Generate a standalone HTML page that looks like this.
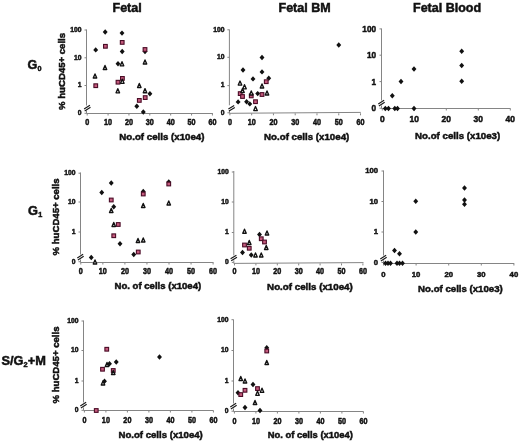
<!DOCTYPE html>
<html><head><meta charset="utf-8"><style>html,body{margin:0;padding:0;background:#fff}svg{display:block;will-change:transform}</style></head>
<body>
<svg width="520" height="443" viewBox="0 0 520 443">
<style>text{font-family:"Liberation Sans",sans-serif;fill:#111;stroke:#111;stroke-width:0.5}.d{fill:#111}.s{fill:#c45a7c;stroke:#4a0c26;stroke-width:1.1}.t{fill:#fff;stroke:#111;stroke-width:1.35;stroke-linejoin:round}</style>
<rect width="520" height="443" fill="#fff"/>
<text x="112.5" y="12.2" font-size="12.5" text-anchor="start" font-weight="bold" >Fetal</text>
<text x="278.5" y="12.2" font-size="12.5" text-anchor="start" font-weight="bold" >Fetal BM</text>
<text x="413" y="12.2" font-size="12.5" text-anchor="start" font-weight="bold" >Fetal Blood</text>
<text x="27.6" y="68.9" font-size="12.6" font-weight="bold">G<tspan font-size="7.2" dx="0.2" dy="2.2">0</tspan></text>
<text x="27.9" y="214.6" font-size="12.8" font-weight="bold">G<tspan font-size="7.2" dx="0.4" dy="2.4">1</tspan></text>
<text x="1.5" y="364.5" font-size="12.8" font-weight="bold">S/G<tspan font-size="7.4" dy="2.4">2</tspan><tspan dy="-2.4">+M</tspan></text>
<line x1="86.5" y1="29.5" x2="86.5" y2="105.5" stroke="#858585" stroke-width="1"/>
<line x1="86.5" y1="110.5" x2="86.5" y2="113.5" stroke="#858585" stroke-width="1"/>
<path d="M84.10 108.90L89.90 105.30M84.70 110.90L90.50 107.30" stroke="#1a1a1a" stroke-width="1.15" fill="none"/>
<line x1="86.5" y1="113.5" x2="212.9" y2="113.5" stroke="#858585" stroke-width="1"/>
<line x1="84.5" y1="30" x2="86.5" y2="30" stroke="#858585" stroke-width="1"/>
<text x="81.5" y="31.875" font-size="7.5" text-anchor="end" font-weight="bold" transform="translate(81.5 0) scale(0.9 1) translate(-81.5 0)">100</text>
<line x1="84.5" y1="57.8" x2="86.5" y2="57.8" stroke="#858585" stroke-width="1"/>
<text x="81.5" y="59.675" font-size="7.5" text-anchor="end" font-weight="bold" transform="translate(81.5 0) scale(0.9 1) translate(-81.5 0)">10</text>
<line x1="84.5" y1="85.5" x2="86.5" y2="85.5" stroke="#858585" stroke-width="1"/>
<text x="81.5" y="87.375" font-size="7.5" text-anchor="end" font-weight="bold" transform="translate(81.5 0) scale(0.9 1) translate(-81.5 0)">1</text>
<line x1="84.5" y1="113.3" x2="86.5" y2="113.3" stroke="#858585" stroke-width="1"/>
<text x="81.5" y="115.175" font-size="7.5" text-anchor="end" font-weight="bold" transform="translate(81.5 0) scale(0.9 1) translate(-81.5 0)">0</text>
<line x1="87.2" y1="113.5" x2="87.2" y2="115.5" stroke="#858585" stroke-width="1"/>
<text x="87.2" y="125.2" font-size="8.2" text-anchor="middle" font-weight="bold" transform="translate(87.2 0) scale(0.88 1) translate(-87.2 0)">0</text>
<line x1="108.07" y1="113.5" x2="108.07" y2="115.5" stroke="#858585" stroke-width="1"/>
<text x="108.07" y="125.2" font-size="8.2" text-anchor="middle" font-weight="bold" transform="translate(108.07 0) scale(0.88 1) translate(-108.07 0)">10</text>
<line x1="128.94" y1="113.5" x2="128.94" y2="115.5" stroke="#858585" stroke-width="1"/>
<text x="128.94" y="125.2" font-size="8.2" text-anchor="middle" font-weight="bold" transform="translate(128.94 0) scale(0.88 1) translate(-128.94 0)">20</text>
<line x1="149.81" y1="113.5" x2="149.81" y2="115.5" stroke="#858585" stroke-width="1"/>
<text x="149.81" y="125.2" font-size="8.2" text-anchor="middle" font-weight="bold" transform="translate(149.81 0) scale(0.88 1) translate(-149.81 0)">30</text>
<line x1="170.68" y1="113.5" x2="170.68" y2="115.5" stroke="#858585" stroke-width="1"/>
<text x="170.68" y="125.2" font-size="8.2" text-anchor="middle" font-weight="bold" transform="translate(170.68 0) scale(0.88 1) translate(-170.68 0)">40</text>
<line x1="191.55" y1="113.5" x2="191.55" y2="115.5" stroke="#858585" stroke-width="1"/>
<text x="191.55" y="125.2" font-size="8.2" text-anchor="middle" font-weight="bold" transform="translate(191.55 0) scale(0.88 1) translate(-191.55 0)">50</text>
<line x1="212.42" y1="113.5" x2="212.42" y2="115.5" stroke="#858585" stroke-width="1"/>
<text x="212.42" y="125.2" font-size="8.2" text-anchor="middle" font-weight="bold" transform="translate(212.42 0) scale(0.88 1) translate(-212.42 0)">60</text>
<text x="119.3" y="140.3" font-size="9.8" text-anchor="start" font-weight="bold" textLength="85.2" lengthAdjust="spacingAndGlyphs">No.of cells (x10e4)</text>
<text transform="translate(64.8,71.4) rotate(-90)" font-size="9.6" text-anchor="middle" font-weight="bold">% huCD45+ cells</text>
<line x1="229.4" y1="29.5" x2="229.4" y2="105.3" stroke="#858585" stroke-width="1"/>
<line x1="229.4" y1="110.3" x2="229.4" y2="113.3" stroke="#858585" stroke-width="1"/>
<path d="M228.40 109.00L234.20 105.40M229.00 111.00L234.80 107.40" stroke="#1a1a1a" stroke-width="1.15" fill="none"/>
<line x1="229.4" y1="113.3" x2="360.8" y2="112.4" stroke="#858585" stroke-width="1"/>
<line x1="227.4" y1="29.8" x2="229.4" y2="29.8" stroke="#858585" stroke-width="1"/>
<text x="224.4" y="31.675" font-size="7.5" text-anchor="end" font-weight="bold" transform="translate(224.4 0) scale(0.9 1) translate(-224.4 0)">100</text>
<line x1="227.4" y1="57.3" x2="229.4" y2="57.3" stroke="#858585" stroke-width="1"/>
<text x="224.4" y="59.175" font-size="7.5" text-anchor="end" font-weight="bold" transform="translate(224.4 0) scale(0.9 1) translate(-224.4 0)">10</text>
<line x1="227.4" y1="85.6" x2="229.4" y2="85.6" stroke="#858585" stroke-width="1"/>
<text x="224.4" y="87.475" font-size="7.5" text-anchor="end" font-weight="bold" transform="translate(224.4 0) scale(0.9 1) translate(-224.4 0)">1</text>
<line x1="227.4" y1="112.8" x2="229.4" y2="112.8" stroke="#858585" stroke-width="1"/>
<text x="224.4" y="114.675" font-size="7.5" text-anchor="end" font-weight="bold" transform="translate(224.4 0) scale(0.9 1) translate(-224.4 0)">0</text>
<line x1="229.9" y1="113.3" x2="229.9" y2="115.3" stroke="#858585" stroke-width="1"/>
<text x="229.9" y="125.3" font-size="8.2" text-anchor="middle" font-weight="bold" transform="translate(229.9 0) scale(0.88 1) translate(-229.9 0)">0</text>
<line x1="251.67" y1="113.3" x2="251.67" y2="115.3" stroke="#858585" stroke-width="1"/>
<text x="251.67" y="125.3" font-size="8.2" text-anchor="middle" font-weight="bold" transform="translate(251.67 0) scale(0.88 1) translate(-251.67 0)">10</text>
<line x1="273.44" y1="113.3" x2="273.44" y2="115.3" stroke="#858585" stroke-width="1"/>
<text x="273.44" y="125.3" font-size="8.2" text-anchor="middle" font-weight="bold" transform="translate(273.44 0) scale(0.88 1) translate(-273.44 0)">20</text>
<line x1="295.21" y1="113.3" x2="295.21" y2="115.3" stroke="#858585" stroke-width="1"/>
<text x="295.21" y="125.3" font-size="8.2" text-anchor="middle" font-weight="bold" transform="translate(295.21 0) scale(0.88 1) translate(-295.21 0)">30</text>
<line x1="316.98" y1="113.3" x2="316.98" y2="115.3" stroke="#858585" stroke-width="1"/>
<text x="316.98" y="125.3" font-size="8.2" text-anchor="middle" font-weight="bold" transform="translate(316.98 0) scale(0.88 1) translate(-316.98 0)">40</text>
<line x1="338.75" y1="113.3" x2="338.75" y2="115.3" stroke="#858585" stroke-width="1"/>
<text x="338.75" y="125.3" font-size="8.2" text-anchor="middle" font-weight="bold" transform="translate(338.75 0) scale(0.88 1) translate(-338.75 0)">50</text>
<line x1="360.52" y1="113.3" x2="360.52" y2="115.3" stroke="#858585" stroke-width="1"/>
<text x="360.52" y="125.3" font-size="8.2" text-anchor="middle" font-weight="bold" transform="translate(360.52 0) scale(0.88 1) translate(-360.52 0)">60</text>
<text x="264.1" y="140.3" font-size="9.8" text-anchor="start" font-weight="bold" textLength="85.2" lengthAdjust="spacingAndGlyphs">No.of cells (x10e4)</text>
<line x1="381.5" y1="28.5" x2="381.5" y2="100.5" stroke="#858585" stroke-width="1"/>
<line x1="381.5" y1="105.5" x2="381.5" y2="108.5" stroke="#858585" stroke-width="1"/>
<path d="M378.30 103.90L384.10 100.30M378.90 105.90L384.70 102.30" stroke="#1a1a1a" stroke-width="1.15" fill="none"/>
<line x1="381.5" y1="108.5" x2="510.5" y2="108.5" stroke="#858585" stroke-width="1"/>
<line x1="379.5" y1="28.9" x2="381.5" y2="28.9" stroke="#858585" stroke-width="1"/>
<text x="376.0" y="31.825" font-size="8.9" text-anchor="end" font-weight="bold" transform="translate(376.0 0) scale(0.92 1) translate(-376.0 0)">100</text>
<line x1="379.5" y1="55.2" x2="381.5" y2="55.2" stroke="#858585" stroke-width="1"/>
<text x="376.0" y="58.12500000000001" font-size="8.9" text-anchor="end" font-weight="bold" transform="translate(376.0 0) scale(0.92 1) translate(-376.0 0)">10</text>
<line x1="379.5" y1="81.6" x2="381.5" y2="81.6" stroke="#858585" stroke-width="1"/>
<text x="376.0" y="84.52499999999999" font-size="8.9" text-anchor="end" font-weight="bold" transform="translate(376.0 0) scale(0.92 1) translate(-376.0 0)">1</text>
<line x1="379.5" y1="108.2" x2="381.5" y2="108.2" stroke="#858585" stroke-width="1"/>
<text x="376.0" y="111.125" font-size="8.9" text-anchor="end" font-weight="bold" transform="translate(376.0 0) scale(0.92 1) translate(-376.0 0)">0</text>
<line x1="382.3" y1="108.5" x2="382.3" y2="110.5" stroke="#858585" stroke-width="1"/>
<text x="382.3" y="122.4" font-size="8.9" text-anchor="middle" font-weight="bold" transform="translate(382.3 0) scale(0.95 1) translate(-382.3 0)">0</text>
<line x1="414.3" y1="108.5" x2="414.3" y2="110.5" stroke="#858585" stroke-width="1"/>
<text x="414.3" y="122.4" font-size="8.9" text-anchor="middle" font-weight="bold" transform="translate(414.3 0) scale(0.95 1) translate(-414.3 0)">10</text>
<line x1="446.3" y1="108.5" x2="446.3" y2="110.5" stroke="#858585" stroke-width="1"/>
<text x="446.3" y="122.4" font-size="8.9" text-anchor="middle" font-weight="bold" transform="translate(446.3 0) scale(0.95 1) translate(-446.3 0)">20</text>
<line x1="478.3" y1="108.5" x2="478.3" y2="110.5" stroke="#858585" stroke-width="1"/>
<text x="478.3" y="122.4" font-size="8.9" text-anchor="middle" font-weight="bold" transform="translate(478.3 0) scale(0.95 1) translate(-478.3 0)">30</text>
<line x1="510.3" y1="108.5" x2="510.3" y2="110.5" stroke="#858585" stroke-width="1"/>
<text x="510.3" y="122.4" font-size="8.9" text-anchor="middle" font-weight="bold" transform="translate(510.3 0) scale(0.95 1) translate(-510.3 0)">40</text>
<text x="415.1" y="138.5" font-size="9.8" text-anchor="start" font-weight="bold" textLength="85.1" lengthAdjust="spacingAndGlyphs">No.of cells (x10e3)</text>
<line x1="80.5" y1="172.5" x2="80.5" y2="254.5" stroke="#858585" stroke-width="1"/>
<line x1="80.5" y1="259.5" x2="80.5" y2="262.5" stroke="#858585" stroke-width="1"/>
<path d="M77.30 257.90L83.10 254.30M77.90 259.90L83.70 256.30" stroke="#1a1a1a" stroke-width="1.15" fill="none"/>
<line x1="80.5" y1="262.5" x2="213.5" y2="262.5" stroke="#858585" stroke-width="1"/>
<line x1="78.5" y1="173.2" x2="80.5" y2="173.2" stroke="#858585" stroke-width="1"/>
<text x="75.5" y="175.075" font-size="7.5" text-anchor="end" font-weight="bold" transform="translate(75.5 0) scale(0.9 1) translate(-75.5 0)">100</text>
<line x1="78.5" y1="202" x2="80.5" y2="202" stroke="#858585" stroke-width="1"/>
<text x="75.5" y="203.875" font-size="7.5" text-anchor="end" font-weight="bold" transform="translate(75.5 0) scale(0.9 1) translate(-75.5 0)">10</text>
<line x1="78.5" y1="232" x2="80.5" y2="232" stroke="#858585" stroke-width="1"/>
<text x="75.5" y="233.875" font-size="7.5" text-anchor="end" font-weight="bold" transform="translate(75.5 0) scale(0.9 1) translate(-75.5 0)">1</text>
<line x1="78.5" y1="261.7" x2="80.5" y2="261.7" stroke="#858585" stroke-width="1"/>
<text x="75.5" y="263.575" font-size="7.5" text-anchor="end" font-weight="bold" transform="translate(75.5 0) scale(0.9 1) translate(-75.5 0)">0</text>
<line x1="80.8" y1="262.5" x2="80.8" y2="264.5" stroke="#858585" stroke-width="1"/>
<text x="80.8" y="273.9" font-size="8.2" text-anchor="middle" font-weight="bold" transform="translate(80.8 0) scale(0.88 1) translate(-80.8 0)">0</text>
<line x1="102.85" y1="262.5" x2="102.85" y2="264.5" stroke="#858585" stroke-width="1"/>
<text x="102.85" y="273.9" font-size="8.2" text-anchor="middle" font-weight="bold" transform="translate(102.85 0) scale(0.88 1) translate(-102.85 0)">10</text>
<line x1="124.9" y1="262.5" x2="124.9" y2="264.5" stroke="#858585" stroke-width="1"/>
<text x="124.9" y="273.9" font-size="8.2" text-anchor="middle" font-weight="bold" transform="translate(124.9 0) scale(0.88 1) translate(-124.9 0)">20</text>
<line x1="146.95" y1="262.5" x2="146.95" y2="264.5" stroke="#858585" stroke-width="1"/>
<text x="146.95" y="273.9" font-size="8.2" text-anchor="middle" font-weight="bold" transform="translate(146.95 0) scale(0.88 1) translate(-146.95 0)">30</text>
<line x1="169.0" y1="262.5" x2="169.0" y2="264.5" stroke="#858585" stroke-width="1"/>
<text x="169.0" y="273.9" font-size="8.2" text-anchor="middle" font-weight="bold" transform="translate(169.0 0) scale(0.88 1) translate(-169.0 0)">40</text>
<line x1="191.05" y1="262.5" x2="191.05" y2="264.5" stroke="#858585" stroke-width="1"/>
<text x="191.05" y="273.9" font-size="8.2" text-anchor="middle" font-weight="bold" transform="translate(191.05 0) scale(0.88 1) translate(-191.05 0)">50</text>
<line x1="213.1" y1="262.5" x2="213.1" y2="264.5" stroke="#858585" stroke-width="1"/>
<text x="213.1" y="273.9" font-size="8.2" text-anchor="middle" font-weight="bold" transform="translate(213.1 0) scale(0.88 1) translate(-213.1 0)">60</text>
<text x="114.5" y="289.4" font-size="9.8" text-anchor="start" font-weight="bold" textLength="86.7" lengthAdjust="spacingAndGlyphs">No. of cells (x10e4)</text>
<text transform="translate(58.8,216.9) rotate(-90)" font-size="9.6" text-anchor="middle" font-weight="bold">% huCD45+ cells</text>
<line x1="233.8" y1="171" x2="233.8" y2="255.39999999999998" stroke="#858585" stroke-width="1"/>
<line x1="233.8" y1="260.4" x2="233.8" y2="263.4" stroke="#858585" stroke-width="1"/>
<path d="M230.60 258.80L236.40 255.20M231.20 260.80L237.00 257.20" stroke="#1a1a1a" stroke-width="1.15" fill="none"/>
<line x1="233.8" y1="263.4" x2="363.5" y2="262.6" stroke="#858585" stroke-width="1"/>
<line x1="231.8" y1="172" x2="233.8" y2="172" stroke="#858585" stroke-width="1"/>
<text x="228.8" y="173.875" font-size="7.5" text-anchor="end" font-weight="bold" transform="translate(228.8 0) scale(0.9 1) translate(-228.8 0)">100</text>
<line x1="231.8" y1="202" x2="233.8" y2="202" stroke="#858585" stroke-width="1"/>
<text x="228.8" y="203.875" font-size="7.5" text-anchor="end" font-weight="bold" transform="translate(228.8 0) scale(0.9 1) translate(-228.8 0)">10</text>
<line x1="231.8" y1="232.5" x2="233.8" y2="232.5" stroke="#858585" stroke-width="1"/>
<text x="228.8" y="234.375" font-size="7.5" text-anchor="end" font-weight="bold" transform="translate(228.8 0) scale(0.9 1) translate(-228.8 0)">1</text>
<line x1="231.8" y1="262.4" x2="233.8" y2="262.4" stroke="#858585" stroke-width="1"/>
<text x="228.8" y="264.275" font-size="7.5" text-anchor="end" font-weight="bold" transform="translate(228.8 0) scale(0.9 1) translate(-228.8 0)">0</text>
<line x1="234.5" y1="263.4" x2="234.5" y2="265.4" stroke="#858585" stroke-width="1"/>
<text x="234.5" y="274.09999999999997" font-size="8.2" text-anchor="middle" font-weight="bold" transform="translate(234.5 0) scale(0.88 1) translate(-234.5 0)">0</text>
<line x1="255.9" y1="263.4" x2="255.9" y2="265.4" stroke="#858585" stroke-width="1"/>
<text x="255.9" y="274.09999999999997" font-size="8.2" text-anchor="middle" font-weight="bold" transform="translate(255.9 0) scale(0.88 1) translate(-255.9 0)">10</text>
<line x1="277.3" y1="263.4" x2="277.3" y2="265.4" stroke="#858585" stroke-width="1"/>
<text x="277.3" y="274.09999999999997" font-size="8.2" text-anchor="middle" font-weight="bold" transform="translate(277.3 0) scale(0.88 1) translate(-277.3 0)">20</text>
<line x1="298.7" y1="263.4" x2="298.7" y2="265.4" stroke="#858585" stroke-width="1"/>
<text x="298.7" y="274.09999999999997" font-size="8.2" text-anchor="middle" font-weight="bold" transform="translate(298.7 0) scale(0.88 1) translate(-298.7 0)">30</text>
<line x1="320.1" y1="263.4" x2="320.1" y2="265.4" stroke="#858585" stroke-width="1"/>
<text x="320.1" y="274.09999999999997" font-size="8.2" text-anchor="middle" font-weight="bold" transform="translate(320.1 0) scale(0.88 1) translate(-320.1 0)">40</text>
<line x1="341.5" y1="263.4" x2="341.5" y2="265.4" stroke="#858585" stroke-width="1"/>
<text x="341.5" y="274.09999999999997" font-size="8.2" text-anchor="middle" font-weight="bold" transform="translate(341.5 0) scale(0.88 1) translate(-341.5 0)">50</text>
<line x1="362.9" y1="263.4" x2="362.9" y2="265.4" stroke="#858585" stroke-width="1"/>
<text x="362.9" y="274.09999999999997" font-size="8.2" text-anchor="middle" font-weight="bold" transform="translate(362.9 0) scale(0.88 1) translate(-362.9 0)">60</text>
<text x="267.1" y="289.8" font-size="9.8" text-anchor="start" font-weight="bold" textLength="85.7" lengthAdjust="spacingAndGlyphs">No.of cells (x10e4)</text>
<line x1="383.5" y1="170.5" x2="383.5" y2="255.5" stroke="#858585" stroke-width="1"/>
<line x1="383.5" y1="260.5" x2="383.5" y2="263.5" stroke="#858585" stroke-width="1"/>
<path d="M380.30 258.90L386.10 255.30M380.90 260.90L386.70 257.30" stroke="#1a1a1a" stroke-width="1.15" fill="none"/>
<line x1="383.5" y1="263.5" x2="514.2" y2="263.5" stroke="#858585" stroke-width="1"/>
<line x1="381.5" y1="171" x2="383.5" y2="171" stroke="#858585" stroke-width="1"/>
<text x="378.0" y="173.025" font-size="8.1" text-anchor="end" font-weight="bold" transform="translate(378.0 0) scale(0.95 1) translate(-378.0 0)">100</text>
<line x1="381.5" y1="201.5" x2="383.5" y2="201.5" stroke="#858585" stroke-width="1"/>
<text x="378.0" y="203.525" font-size="8.1" text-anchor="end" font-weight="bold" transform="translate(378.0 0) scale(0.95 1) translate(-378.0 0)">10</text>
<line x1="381.5" y1="232" x2="383.5" y2="232" stroke="#858585" stroke-width="1"/>
<text x="378.0" y="234.025" font-size="8.1" text-anchor="end" font-weight="bold" transform="translate(378.0 0) scale(0.95 1) translate(-378.0 0)">1</text>
<line x1="381.5" y1="262.5" x2="383.5" y2="262.5" stroke="#858585" stroke-width="1"/>
<text x="378.0" y="264.525" font-size="8.1" text-anchor="end" font-weight="bold" transform="translate(378.0 0) scale(0.95 1) translate(-378.0 0)">0</text>
<line x1="383.5" y1="263.5" x2="383.5" y2="265.5" stroke="#858585" stroke-width="1"/>
<text x="383.5" y="276.6" font-size="8.1" text-anchor="middle" font-weight="bold" transform="translate(383.5 0) scale(0.95 1) translate(-383.5 0)">0</text>
<line x1="416.1" y1="263.5" x2="416.1" y2="265.5" stroke="#858585" stroke-width="1"/>
<text x="416.1" y="276.6" font-size="8.1" text-anchor="middle" font-weight="bold" transform="translate(416.1 0) scale(0.95 1) translate(-416.1 0)">10</text>
<line x1="448.7" y1="263.5" x2="448.7" y2="265.5" stroke="#858585" stroke-width="1"/>
<text x="448.7" y="276.6" font-size="8.1" text-anchor="middle" font-weight="bold" transform="translate(448.7 0) scale(0.95 1) translate(-448.7 0)">20</text>
<line x1="481.3" y1="263.5" x2="481.3" y2="265.5" stroke="#858585" stroke-width="1"/>
<text x="481.3" y="276.6" font-size="8.1" text-anchor="middle" font-weight="bold" transform="translate(481.3 0) scale(0.95 1) translate(-481.3 0)">30</text>
<line x1="513.9" y1="263.5" x2="513.9" y2="265.5" stroke="#858585" stroke-width="1"/>
<text x="513.9" y="276.6" font-size="8.1" text-anchor="middle" font-weight="bold" transform="translate(513.9 0) scale(0.95 1) translate(-513.9 0)">40</text>
<text x="418.1" y="291.7" font-size="9.8" text-anchor="start" font-weight="bold" textLength="84.7" lengthAdjust="spacingAndGlyphs">No.of cells (x10e3)</text>
<line x1="83.5" y1="320.5" x2="83.5" y2="402.5" stroke="#858585" stroke-width="1"/>
<line x1="83.5" y1="407.5" x2="83.5" y2="410.5" stroke="#858585" stroke-width="1"/>
<path d="M80.30 405.90L86.10 402.30M80.90 407.90L86.70 404.30" stroke="#1a1a1a" stroke-width="1.15" fill="none"/>
<line x1="83.5" y1="410.5" x2="213.5" y2="410.5" stroke="#858585" stroke-width="1"/>
<line x1="81.5" y1="321" x2="83.5" y2="321" stroke="#858585" stroke-width="1"/>
<text x="78.5" y="322.875" font-size="7.5" text-anchor="end" font-weight="bold" transform="translate(78.5 0) scale(0.9 1) translate(-78.5 0)">100</text>
<line x1="81.5" y1="350.5" x2="83.5" y2="350.5" stroke="#858585" stroke-width="1"/>
<text x="78.5" y="352.375" font-size="7.5" text-anchor="end" font-weight="bold" transform="translate(78.5 0) scale(0.9 1) translate(-78.5 0)">10</text>
<line x1="81.5" y1="381" x2="83.5" y2="381" stroke="#858585" stroke-width="1"/>
<text x="78.5" y="382.875" font-size="7.5" text-anchor="end" font-weight="bold" transform="translate(78.5 0) scale(0.9 1) translate(-78.5 0)">1</text>
<line x1="81.5" y1="410.3" x2="83.5" y2="410.3" stroke="#858585" stroke-width="1"/>
<text x="78.5" y="412.175" font-size="7.5" text-anchor="end" font-weight="bold" transform="translate(78.5 0) scale(0.9 1) translate(-78.5 0)">0</text>
<line x1="84.4" y1="410.5" x2="84.4" y2="412.5" stroke="#858585" stroke-width="1"/>
<text x="84.4" y="422.6" font-size="8.2" text-anchor="middle" font-weight="bold" transform="translate(84.4 0) scale(0.88 1) translate(-84.4 0)">0</text>
<line x1="105.9" y1="410.5" x2="105.9" y2="412.5" stroke="#858585" stroke-width="1"/>
<text x="105.9" y="422.6" font-size="8.2" text-anchor="middle" font-weight="bold" transform="translate(105.9 0) scale(0.88 1) translate(-105.9 0)">10</text>
<line x1="127.4" y1="410.5" x2="127.4" y2="412.5" stroke="#858585" stroke-width="1"/>
<text x="127.4" y="422.6" font-size="8.2" text-anchor="middle" font-weight="bold" transform="translate(127.4 0) scale(0.88 1) translate(-127.4 0)">20</text>
<line x1="148.9" y1="410.5" x2="148.9" y2="412.5" stroke="#858585" stroke-width="1"/>
<text x="148.9" y="422.6" font-size="8.2" text-anchor="middle" font-weight="bold" transform="translate(148.9 0) scale(0.88 1) translate(-148.9 0)">30</text>
<line x1="170.4" y1="410.5" x2="170.4" y2="412.5" stroke="#858585" stroke-width="1"/>
<text x="170.4" y="422.6" font-size="8.2" text-anchor="middle" font-weight="bold" transform="translate(170.4 0) scale(0.88 1) translate(-170.4 0)">40</text>
<line x1="191.9" y1="410.5" x2="191.9" y2="412.5" stroke="#858585" stroke-width="1"/>
<text x="191.9" y="422.6" font-size="8.2" text-anchor="middle" font-weight="bold" transform="translate(191.9 0) scale(0.88 1) translate(-191.9 0)">50</text>
<line x1="213.4" y1="410.5" x2="213.4" y2="412.5" stroke="#858585" stroke-width="1"/>
<text x="213.4" y="422.6" font-size="8.2" text-anchor="middle" font-weight="bold" transform="translate(213.4 0) scale(0.88 1) translate(-213.4 0)">60</text>
<text x="118.5" y="438.3" font-size="9.8" text-anchor="start" font-weight="bold" textLength="84.3" lengthAdjust="spacingAndGlyphs">No.of cells (x10e4)</text>
<text transform="translate(59.2,365) rotate(-90)" font-size="9.6" text-anchor="middle" font-weight="bold">% huCD45+ cells</text>
<line x1="233.5" y1="319.5" x2="233.5" y2="403.5" stroke="#858585" stroke-width="1"/>
<line x1="233.5" y1="408.5" x2="233.5" y2="411.5" stroke="#858585" stroke-width="1"/>
<path d="M230.30 406.90L236.10 403.30M230.90 408.90L236.70 405.30" stroke="#1a1a1a" stroke-width="1.15" fill="none"/>
<line x1="233.5" y1="411.5" x2="363.5" y2="411.5" stroke="#858585" stroke-width="1"/>
<line x1="231.5" y1="319.7" x2="233.5" y2="319.7" stroke="#858585" stroke-width="1"/>
<text x="228.5" y="321.575" font-size="7.5" text-anchor="end" font-weight="bold" transform="translate(228.5 0) scale(0.9 1) translate(-228.5 0)">100</text>
<line x1="231.5" y1="350.5" x2="233.5" y2="350.5" stroke="#858585" stroke-width="1"/>
<text x="228.5" y="352.375" font-size="7.5" text-anchor="end" font-weight="bold" transform="translate(228.5 0) scale(0.9 1) translate(-228.5 0)">10</text>
<line x1="231.5" y1="381" x2="233.5" y2="381" stroke="#858585" stroke-width="1"/>
<text x="228.5" y="382.875" font-size="7.5" text-anchor="end" font-weight="bold" transform="translate(228.5 0) scale(0.9 1) translate(-228.5 0)">1</text>
<line x1="231.5" y1="411.2" x2="233.5" y2="411.2" stroke="#858585" stroke-width="1"/>
<text x="228.5" y="413.075" font-size="7.5" text-anchor="end" font-weight="bold" transform="translate(228.5 0) scale(0.9 1) translate(-228.5 0)">0</text>
<line x1="234.4" y1="411.5" x2="234.4" y2="413.5" stroke="#858585" stroke-width="1"/>
<text x="234.4" y="423.7" font-size="8.2" text-anchor="middle" font-weight="bold" transform="translate(234.4 0) scale(0.88 1) translate(-234.4 0)">0</text>
<line x1="255.9" y1="411.5" x2="255.9" y2="413.5" stroke="#858585" stroke-width="1"/>
<text x="255.9" y="423.7" font-size="8.2" text-anchor="middle" font-weight="bold" transform="translate(255.9 0) scale(0.88 1) translate(-255.9 0)">10</text>
<line x1="277.4" y1="411.5" x2="277.4" y2="413.5" stroke="#858585" stroke-width="1"/>
<text x="277.4" y="423.7" font-size="8.2" text-anchor="middle" font-weight="bold" transform="translate(277.4 0) scale(0.88 1) translate(-277.4 0)">20</text>
<line x1="298.9" y1="411.5" x2="298.9" y2="413.5" stroke="#858585" stroke-width="1"/>
<text x="298.9" y="423.7" font-size="8.2" text-anchor="middle" font-weight="bold" transform="translate(298.9 0) scale(0.88 1) translate(-298.9 0)">30</text>
<line x1="320.4" y1="411.5" x2="320.4" y2="413.5" stroke="#858585" stroke-width="1"/>
<text x="320.4" y="423.7" font-size="8.2" text-anchor="middle" font-weight="bold" transform="translate(320.4 0) scale(0.88 1) translate(-320.4 0)">40</text>
<line x1="341.9" y1="411.5" x2="341.9" y2="413.5" stroke="#858585" stroke-width="1"/>
<text x="341.9" y="423.7" font-size="8.2" text-anchor="middle" font-weight="bold" transform="translate(341.9 0) scale(0.88 1) translate(-341.9 0)">50</text>
<line x1="363.4" y1="411.5" x2="363.4" y2="413.5" stroke="#858585" stroke-width="1"/>
<text x="363.4" y="423.7" font-size="8.2" text-anchor="middle" font-weight="bold" transform="translate(363.4 0) scale(0.88 1) translate(-363.4 0)">60</text>
<text x="267.7" y="438.3" font-size="9.8" text-anchor="start" font-weight="bold" textLength="85.1" lengthAdjust="spacingAndGlyphs">No. of cells (x10e4)</text>
<path class="d" d="M105.2 29.30L107.65 32L105.2 34.70L102.75 32Z"/>
<path class="d" d="M122 30.40L124.45 33.1L122 35.80L119.55 33.1Z"/>
<path class="d" d="M95.7 47.20L98.15 49.9L95.7 52.60L93.25 49.9Z"/>
<path class="d" d="M122.2 48.80L124.65 51.5L122.2 54.20L119.75 51.5Z"/>
<path class="d" d="M118 61.10L120.45 63.8L118 66.50L115.55 63.8Z"/>
<path class="d" d="M145 48.80L147.45 51.5L145 54.20L142.55 51.5Z"/>
<path class="d" d="M149.9 91.10L152.35 93.8L149.9 96.50L147.45 93.8Z"/>
<path class="d" d="M136.8 103.50L139.25 106.2L136.8 108.90L134.35 106.2Z"/>
<path class="d" d="M143.3 109.30L145.75 112L143.3 114.70L140.85 112Z"/>
<rect class="s" x="103.55000000000001" y="44.449999999999996" width="3.7" height="3.7"/>
<rect class="s" x="120.35000000000001" y="40.55" width="3.7" height="3.7"/>
<rect class="s" x="93.9" y="83.85000000000001" width="3.7" height="3.7"/>
<rect class="s" x="116.15" y="80.35000000000001" width="3.7" height="3.7"/>
<rect class="s" x="120.55000000000001" y="76.55000000000001" width="3.7" height="3.7"/>
<rect class="s" x="143.15" y="47.65" width="3.7" height="3.7"/>
<rect class="s" x="143.35" y="95.75" width="3.7" height="3.7"/>
<rect class="s" x="137.45000000000002" y="98.55000000000001" width="3.7" height="3.7"/>
<path class="t" d="M105 65.40L106.75 69.50L103.25 69.50Z"/>
<path class="t" d="M95 73.90L96.75 78.00L93.25 78.00Z"/>
<path class="t" d="M122 61.70L123.75 65.80L120.25 65.80Z"/>
<path class="t" d="M122.3 79.20L124.05 83.30L120.55 83.30Z"/>
<path class="t" d="M117.8 88.70L119.55 92.80L116.05 92.80Z"/>
<path class="t" d="M145 59.90L146.75 64.00L143.25 64.00Z"/>
<path class="t" d="M139.3 83.40L141.05 87.50L137.55 87.50Z"/>
<path class="t" d="M145 88.60L146.75 92.70L143.25 92.70Z"/>
<path class="d" d="M262 54.80L264.45 57.5L262 60.20L259.55 57.5Z"/>
<path class="d" d="M243 67.30L245.45 70L243 72.70L240.55 70Z"/>
<path class="d" d="M262 69.20L264.45 71.9L262 74.60L259.55 71.9Z"/>
<path class="d" d="M253 76.20L255.45 78.9L253 81.60L250.55 78.9Z"/>
<path class="d" d="M268.75 75.50L271.20 78.2L268.75 80.90L266.30 78.2Z"/>
<path class="d" d="M257.7 90.90L260.15 93.6L257.7 96.30L255.25 93.6Z"/>
<path class="d" d="M238.1 99.20L240.55 101.9L238.1 104.60L235.65 101.9Z"/>
<path class="d" d="M246.6 99.10L249.05 101.8L246.6 104.50L244.15 101.8Z"/>
<path class="d" d="M249.8 101.20L252.25 103.9L249.8 106.60L247.35 103.9Z"/>
<path class="d" d="M338.75 42.30L341.20 45L338.75 47.70L336.30 45Z"/>
<rect class="s" x="264.4" y="79.85000000000001" width="3.7" height="3.7"/>
<rect class="s" x="238.35" y="91.75" width="3.7" height="3.7"/>
<rect class="s" x="240.65" y="94.65" width="3.7" height="3.7"/>
<rect class="s" x="249.4" y="94.05000000000001" width="3.7" height="3.7"/>
<rect class="s" x="260.15" y="92.65" width="3.7" height="3.7"/>
<rect class="s" x="253.65" y="99.85000000000001" width="3.7" height="3.7"/>
<path class="t" d="M240 81.00L241.75 85.10L238.25 85.10Z"/>
<path class="t" d="M244.5 84.70L246.25 88.80L242.75 88.80Z"/>
<path class="t" d="M262 83.90L263.75 88.00L260.25 88.00Z"/>
<path class="t" d="M242.5 88.40L244.25 92.50L240.75 92.50Z"/>
<path class="t" d="M267 90.90L268.75 95.00L265.25 95.00Z"/>
<path class="t" d="M251.25 90.90L253.00 95.00L249.50 95.00Z"/>
<path class="t" d="M255.5 106.50L257.25 110.60L253.75 110.60Z"/>
<path class="d" d="M392.3 93.05L394.75 95.75L392.3 98.45L389.85 95.75Z"/>
<path class="d" d="M401 78.80L403.45 81.5L401 84.20L398.55 81.5Z"/>
<path class="d" d="M414 66.30L416.45 69L414 71.70L411.55 69Z"/>
<path class="d" d="M414 105.80L416.45 108.5L414 111.20L411.55 108.5Z"/>
<path class="d" d="M385.3 105.80L387.75 108.5L385.3 111.20L382.85 108.5Z"/>
<path class="d" d="M388.5 105.80L390.95 108.5L388.5 111.20L386.05 108.5Z"/>
<path class="d" d="M394.8 105.80L397.25 108.5L394.8 111.20L392.35 108.5Z"/>
<path class="d" d="M397.5 105.80L399.95 108.5L397.5 111.20L395.05 108.5Z"/>
<path class="d" d="M461.7 48.55L464.15 51.25L461.7 53.95L459.25 51.25Z"/>
<path class="d" d="M461.7 62.80L464.15 65.5L461.7 68.20L459.25 65.5Z"/>
<path class="d" d="M461.7 78.55L464.15 81.25L461.7 83.95L459.25 81.25Z"/>
<path class="d" d="M111.25 180.30L113.70 183L111.25 185.70L108.80 183Z"/>
<path class="d" d="M101.75 189.80L104.20 192.5L101.75 195.20L99.30 192.5Z"/>
<path class="d" d="M113.75 204.05L116.20 206.75L113.75 209.45L111.30 206.75Z"/>
<path class="d" d="M120 241.05L122.45 243.75L120 246.45L117.55 243.75Z"/>
<path class="d" d="M133.75 251.80L136.20 254.5L133.75 257.20L131.30 254.5Z"/>
<path class="d" d="M91.25 254.80L93.70 257.5L91.25 260.20L88.80 257.5Z"/>
<path class="d" d="M143.25 188.80L145.70 191.5L143.25 194.20L140.80 191.5Z"/>
<path class="d" d="M168.75 179.30L171.20 182L168.75 184.70L166.30 182Z"/>
<rect class="s" x="109.4" y="198.15" width="3.7" height="3.7"/>
<rect class="s" x="116.4" y="222.65" width="3.7" height="3.7"/>
<rect class="s" x="111.9" y="233.9" width="3.7" height="3.7"/>
<rect class="s" x="136.4" y="250.15" width="3.7" height="3.7"/>
<rect class="s" x="141.4" y="192.15" width="3.7" height="3.7"/>
<rect class="s" x="166.9" y="182.15" width="3.7" height="3.7"/>
<path class="t" d="M111.25 208.40L113.00 212.50L109.50 212.50Z"/>
<path class="t" d="M113.75 222.40L115.50 226.50L112.00 226.50Z"/>
<path class="t" d="M138 238.40L139.75 242.50L136.25 242.50Z"/>
<path class="t" d="M143.25 237.90L145.00 242.00L141.50 242.00Z"/>
<path class="t" d="M95 259.90L96.75 264.00L93.25 264.00Z"/>
<path class="t" d="M143.25 203.40L145.00 207.50L141.50 207.50Z"/>
<path class="t" d="M168.75 200.90L170.50 205.00L167.00 205.00Z"/>
<path class="d" d="M242.5 249.80L244.95 252.5L242.5 255.20L240.05 252.5Z"/>
<path class="d" d="M251.25 252.30L253.70 255L251.25 257.70L248.80 255Z"/>
<path class="d" d="M259.5 231.80L261.95 234.5L259.5 237.20L257.05 234.5Z"/>
<rect class="s" x="242.65" y="243.15" width="3.7" height="3.7"/>
<rect class="s" x="247.4" y="246.4" width="3.7" height="3.7"/>
<rect class="s" x="259.4" y="236.9" width="3.7" height="3.7"/>
<rect class="s" x="262.65" y="240.15" width="3.7" height="3.7"/>
<path class="t" d="M244.5 229.15L246.25 233.25L242.75 233.25Z"/>
<path class="t" d="M249.25 240.40L251.00 244.50L247.50 244.50Z"/>
<path class="t" d="M255.5 252.90L257.25 257.00L253.75 257.00Z"/>
<path class="t" d="M261.25 252.90L263.00 257.00L259.50 257.00Z"/>
<path class="t" d="M267 230.90L268.75 235.00L265.25 235.00Z"/>
<path class="t" d="M266.25 245.40L268.00 249.50L264.50 249.50Z"/>
<path class="d" d="M415.75 198.55L418.20 201.25L415.75 203.95L413.30 201.25Z"/>
<path class="d" d="M415.75 229.30L418.20 232L415.75 234.70L413.30 232Z"/>
<path class="d" d="M464.5 185.30L466.95 188L464.5 190.70L462.05 188Z"/>
<path class="d" d="M464.5 197.30L466.95 200L464.5 202.70L462.05 200Z"/>
<path class="d" d="M464.5 201.55L466.95 204.25L464.5 206.95L462.05 204.25Z"/>
<path class="d" d="M394.5 247.80L396.95 250.5L394.5 253.20L392.05 250.5Z"/>
<path class="d" d="M399.5 251.05L401.95 253.75L399.5 256.45L397.05 253.75Z"/>
<path class="d" d="M385.5 260.60L387.95 263.3L385.5 266.00L383.05 263.3Z"/>
<path class="d" d="M388 260.60L390.45 263.3L388 266.00L385.55 263.3Z"/>
<path class="d" d="M390.5 260.60L392.95 263.3L390.5 266.00L388.05 263.3Z"/>
<path class="d" d="M397 260.60L399.45 263.3L397 266.00L394.55 263.3Z"/>
<path class="d" d="M399.5 260.60L401.95 263.3L399.5 266.00L397.05 263.3Z"/>
<path class="d" d="M402.5 260.60L404.95 263.3L402.5 266.00L400.05 263.3Z"/>
<path class="d" d="M159.5 354.30L161.95 357L159.5 359.70L157.05 357Z"/>
<path class="d" d="M116.25 359.30L118.70 362L116.25 364.70L113.80 362Z"/>
<path class="d" d="M109.5 361.05L111.95 363.75L109.5 366.45L107.05 363.75Z"/>
<path class="d" d="M104.5 378.55L106.95 381.25L104.5 383.95L102.05 381.25Z"/>
<rect class="s" x="104.9" y="347.4" width="3.7" height="3.7"/>
<rect class="s" x="100.65" y="367.4" width="3.7" height="3.7"/>
<rect class="s" x="111.4" y="368.65" width="3.7" height="3.7"/>
<rect class="s" x="94.4" y="408.65" width="3.7" height="3.7"/>
<path class="t" d="M107 362.40L108.75 366.50L105.25 366.50Z"/>
<path class="t" d="M113.25 370.40L115.00 374.50L111.50 374.50Z"/>
<path class="t" d="M103 380.90L104.75 385.00L101.25 385.00Z"/>
<path class="d" d="M266.75 345.10L269.20 347.8L266.75 350.50L264.30 347.8Z"/>
<path class="d" d="M253 381.80L255.45 384.5L253 387.20L250.55 384.5Z"/>
<path class="d" d="M238 390.10L240.45 392.8L238 395.50L235.55 392.8Z"/>
<path class="d" d="M245 404.80L247.45 407.5L245 410.20L242.55 407.5Z"/>
<path class="d" d="M260 407.80L262.45 410.5L260 413.20L257.55 410.5Z"/>
<rect class="s" x="264.9" y="349.15" width="3.7" height="3.7"/>
<rect class="s" x="255.65" y="386.75" width="3.7" height="3.7"/>
<rect class="s" x="238.9" y="392.75" width="3.7" height="3.7"/>
<rect class="s" x="243.15" y="388.45" width="3.7" height="3.7"/>
<path class="t" d="M266.75 360.40L268.50 364.50L265.00 364.50Z"/>
<path class="t" d="M240.75 376.40L242.50 380.50L239.00 380.50Z"/>
<path class="t" d="M245 378.90L246.75 383.00L243.25 383.00Z"/>
<path class="t" d="M257.5 391.20L259.25 395.30L255.75 395.30Z"/>
<path class="t" d="M262 388.20L263.75 392.30L260.25 392.30Z"/>
<path class="t" d="M255 400.40L256.75 404.50L253.25 404.50Z"/>
</svg>
</body></html>
